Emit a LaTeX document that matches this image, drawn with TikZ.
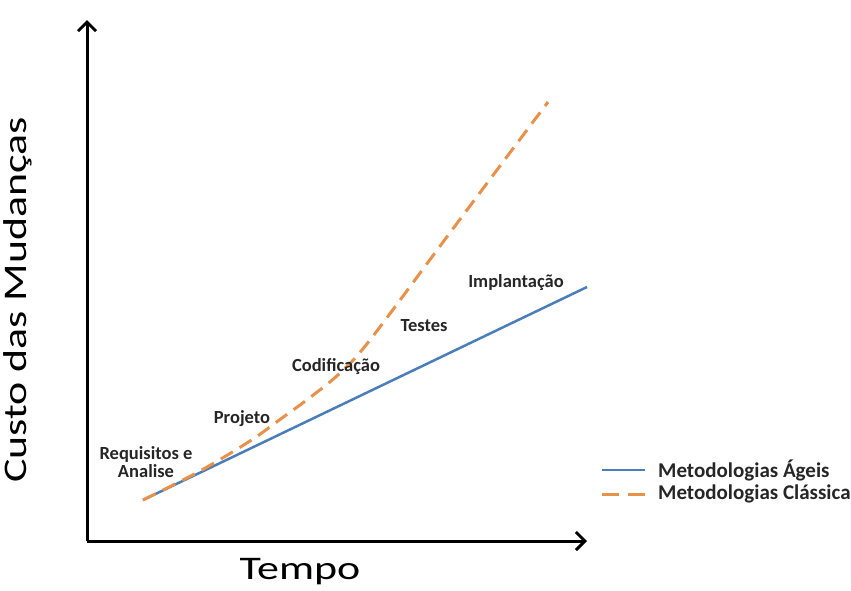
\documentclass[tikz,border=0pt]{standalone}
\usepackage{fontspec}
\setmainfont{Carlito}
\usetikzlibrary{arrows.meta}
\definecolor{agilblue}{HTML}{4A7EBB}
\definecolor{classorange}{HTML}{E8914A}
\definecolor{labeltext}{HTML}{262626}
\newcommand{\widetext}[1]{\scalebox{1.33}[1]{#1}}
\tikzset{
  axisline/.style={line width=3pt, -{Straight Barb[length=9pt,width=18pt,line width=3pt]}},
  agile/.style={agilblue, line width=2.5pt},
  classic/.style={classorange, line width=3pt, dash pattern=on 14pt off 8pt},
  phase/.style={font=\fontsize{18.5}{20}\selectfont\bfseries, text=labeltext, inner sep=0pt, align=center},
  legendtext/.style={font=\fontsize{21}{23}\selectfont\bfseries, text=labeltext, inner sep=0pt, anchor=west},
  axislabel/.style={font=\fontsize{33}{35}\selectfont, text=black, inner sep=0pt, anchor=base}
}
\begin{document}
\begin{tikzpicture}[x=1pt,y=-1pt]
  \useasboundingbox (0,0) rectangle (851,590);

  % axes
  \coordinate (origin) at (87,541);
  \coordinate (ytop) at (87,20);
  \coordinate (xend) at (587,541);
  \draw[axisline] (origin) -- (ytop);
  \draw[axisline] (origin) -- (xend);

  % cost curves
  \coordinate (start) at (143,500);
  \coordinate (agileend) at (587,287);
  \draw[agile] (start) -- (agileend);
  \draw[classic] plot[smooth, tension=0.55] coordinates
    {(143,500) (200,471) (250,441) (282,418) (312,396) (340,373) (370,340) (452,230) (548,102)};

  % phase labels
  \node[phase] (req) at (146,462) {Requisitos e\\[-2pt]Analise};
  \node[phase] (proj) at (242,419) {Projeto};
  \node[phase] (cod) at (336,367) {Codificação};
  \node[phase] (test) at (424,326) {Testes};
  \node[phase] (impl) at (516,283) {Implantação};

  % legend
  \coordinate (la1) at (602,470);
  \coordinate (la2) at (645,470);
  \coordinate (lc1) at (602,494);
  \coordinate (lc2) at (645,494);
  \draw[agile] (la1) -- (la2);
  \draw[classic, dash pattern=on 17pt off 9pt] (lc1) -- (lc2);
  \node[legendtext] (lega) at (658,470) {Metodologias Ágeis};
  \node[legendtext] (legc) at (658,494) {Metodologias Clássicas};

  % axis titles
  \node[axislabel] (tempo) at (300,579) {\widetext{Tempo}};
  \node[axislabel, rotate=90] (custo) at (26,300) {\widetext{Custo das Mudanças}};
\end{tikzpicture}
\end{document}
